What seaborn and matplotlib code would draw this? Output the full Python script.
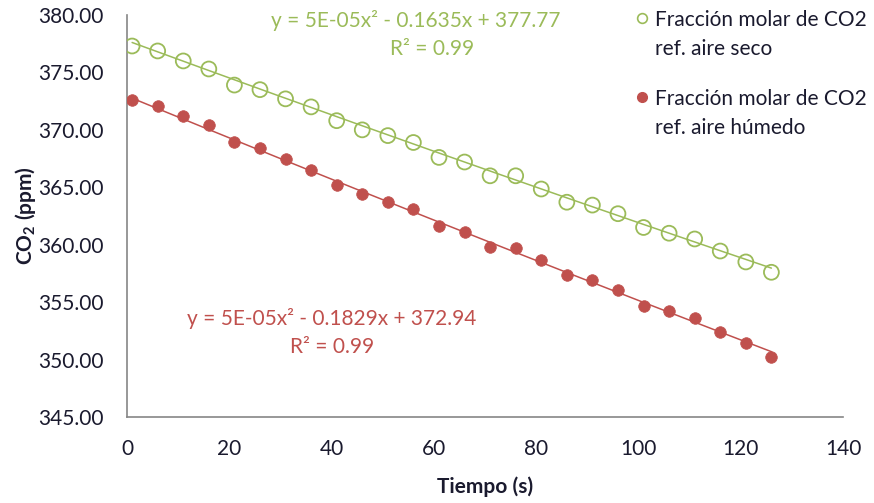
import numpy as np
import pandas as pd
import matplotlib
matplotlib.use("Agg")
import matplotlib.pyplot as plt
from matplotlib.lines import Line2D
import seaborn as sns

# Measurement times (s)
tiempo = [1, 6, 11, 16, 21, 26, 31, 36, 41, 46, 51, 56, 61,
          66, 71, 76, 81, 86, 91, 96, 101, 106, 111, 116, 121, 126]

# CO2 molar fraction referred to dry air (ppm)
co2_seco = [377.30, 376.87, 376.00, 375.30, 373.90, 373.50, 372.70, 372.00,
            370.80, 370.00, 369.50, 368.90, 367.60, 367.20, 366.00, 366.00,
            364.85, 363.70, 363.45, 362.70, 361.50, 361.00, 360.50, 359.45,
            358.50, 357.60]

# CO2 molar fraction referred to humid air (ppm)
co2_humedo = [372.60, 372.10, 371.20, 370.40, 368.90, 368.40, 367.50, 366.50,
              365.20, 364.40, 363.70, 363.10, 361.60, 361.10, 359.80, 359.70,
              358.70, 357.40, 356.90, 356.10, 354.70, 354.20, 353.60, 352.40,
              351.40, 350.20]

# Quadratic trendline coefficients (a, b, c) for y = a*x^2 + b*x + c
coef_seco = [5e-05, -0.1635, 377.77]
coef_humedo = [5e-05, -0.1829, 372.94]
r2_seco = 0.99
r2_humedo = 0.99

serie_labels = ["Fracción molar de CO2\nref. aire seco",
                "Fracción molar de CO2\nref. aire húmedo"]
x_ticks = [0, 20, 40, 60, 80, 100, 120, 140]
y_ticks = [345, 350, 355, 360, 365, 370, 375, 380]

VERDE = "#9BBB59"
ROJO = "#C0504D"
TXT = "#1a1a2e"
EJE = "#868686"
FS = 15
W, H = 874, 503

sns.set_theme(style="white")
plt.rcParams["font.family"] = ["Lato", "DejaVu Sans"]
plt.rcParams["mathtext.fontset"] = "custom"
plt.rcParams["mathtext.rm"] = "Lato"
plt.rcParams["mathtext.bf"] = "Lato:bold"

fig = plt.figure(figsize=(W / 100, H / 100), dpi=100)
ax = fig.add_axes([127 / W, 1 - 417 / H, (843 - 127) / W, (417 - 15) / H])

df = pd.DataFrame({"t": tiempo, "seco": co2_seco, "humedo": co2_humedo})

# Trendlines
xx = np.linspace(min(tiempo), max(tiempo), 200)
trend = pd.DataFrame({
    "t": xx,
    "seco": np.polyval(coef_seco, xx),
    "humedo": np.polyval(coef_humedo, xx),
})
sns.lineplot(data=trend, x="t", y="seco", color=VERDE, lw=1.1, ax=ax)
sns.lineplot(data=trend, x="t", y="humedo", color=ROJO, lw=1.1, ax=ax)

# Measured points
sns.scatterplot(data=df, x="t", y="seco", marker="o", s=115,
                facecolors="none", edgecolor=VERDE, linewidth=1.3, ax=ax,
                zorder=3)
sns.scatterplot(data=df, x="t", y="humedo", marker="o", s=70,
                color=ROJO, edgecolor=ROJO, linewidth=0.5, ax=ax, zorder=3)

ax.set_xlim(0, 140)
ax.set_ylim(345, 380)
ax.set_xticks(x_ticks)
ax.set_yticks(y_ticks)
ax.set_yticklabels([f"{v:.2f}" for v in y_ticks])

for side in ("top", "right"):
    ax.spines[side].set_visible(False)
for side in ("left", "bottom"):
    ax.spines[side].set_color(EJE)
    ax.spines[side].set_linewidth(1.2)
ax.tick_params(axis="both", which="major", direction="out", length=7,
               width=1.2, color=EJE, labelsize=FS, labelcolor=TXT)
ax.tick_params(axis="y", pad=10)
ax.tick_params(axis="x", pad=9)

ax.set_xlabel("Tiempo (s)", fontsize=FS, fontweight="bold", color=TXT,
              va="center")
ax.xaxis.set_label_coords(0.5, -(487 - 417) / (417 - 15))
ax.set_ylabel(r"CO$_\mathbf{2}$ (ppm)", fontsize=FS, fontweight="bold",
              color=TXT, va="center")
ax.yaxis.set_label_coords(-(127 - 25) / (843 - 127), 0.5)

# Trendline equations
def eq_text(c):
    a, b, k = c
    return f"y = {a:.0E}x² - {abs(b):.4f}x + {k:.2f}"

ax.text(56.5, 379.55, eq_text(coef_seco), color=VERDE, fontsize=FS,
        ha="center", va="center", clip_on=False)
ax.text(59.7, 377.05, f"R² = {r2_seco:.2f}", color=VERDE, fontsize=FS,
        ha="center", va="center")
ax.text(40.0, 353.6, eq_text(coef_humedo), color=ROJO, fontsize=FS,
        ha="center", va="center")
ax.text(40.0, 351.1, f"R² = {r2_humedo:.2f}", color=ROJO, fontsize=FS,
        ha="center", va="center")

# Legend: marker beside the first line of each two-line label
legend_marks = [dict(mfc="none", mec=VERDE, mew=1.2),
                dict(mfc=ROJO, mec=ROJO, mew=1.0)]
legend_rows = [18, 97]
for lab, row, mk in zip(serie_labels, legend_rows, legend_marks):
    fig.add_artist(Line2D([642 / W], [1 - row / H], ls="none", marker="o",
                          ms=7, transform=fig.transFigure, **mk))
    for i, line in enumerate(lab.split("\n")):
        fig.text(655 / W, 1 - (row + 29 * i) / H, line, fontsize=FS,
                 color=TXT, ha="left", va="center_baseline")

fig.savefig("out.png", dpi=100)
